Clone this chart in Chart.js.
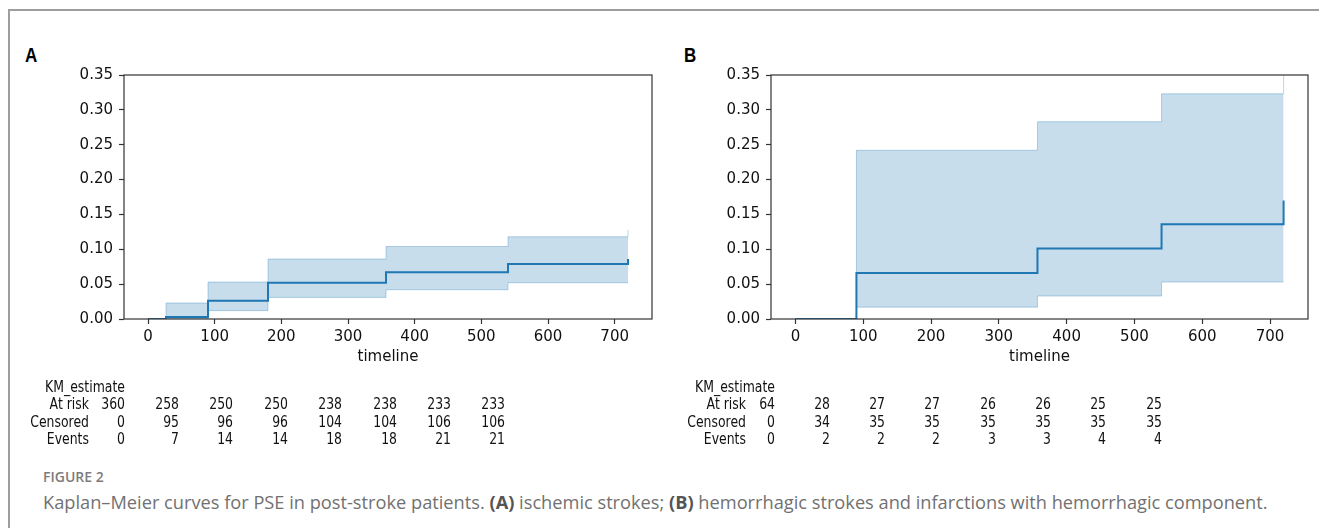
<!DOCTYPE html>
<html><head><meta charset="utf-8">
<script src="https://cdn.jsdelivr.net/npm/chart.js@4.4.1/dist/chart.umd.min.js"></script>
<style>
html,body{margin:0;padding:0;background:#fff;}
body{width:1319px;height:528px;overflow:hidden;position:relative;font-family:'DejaVu Sans',sans-serif;}
#frameTop{position:absolute;left:8px;top:9px;width:1311px;height:2px;background:#9d9d9d}
#frameLeft{position:absolute;left:8px;top:9px;width:2px;height:519px;background:#9d9d9d}
canvas{position:absolute}
.plabel{position:absolute;font:bold 20px 'Liberation Sans',sans-serif;transform:scaleX(0.85);transform-origin:left center;color:#000;line-height:20px}
.cell{position:absolute;width:200px;text-align:right;font-size:15px;line-height:18px;color:#111;white-space:nowrap;transform:scaleX(0.83);transform-origin:right center}
#figno{position:absolute;left:43px;top:467px;font:600 14px 'Open Sans',sans-serif;color:#7c7c7c;line-height:20px;white-space:nowrap}
#caption{position:absolute;left:43px;top:491px;font:400 16px 'Open Sans',sans-serif;color:#717171;line-height:22px;white-space:nowrap}
#caption b{color:#555;font-weight:700}
</style></head>
<body>
<div id="frameTop"></div><div id="frameLeft"></div>
<div class="plabel" style="left:25px;top:45px">A</div>
<div class="plabel" style="left:684px;top:45px">B</div>
<canvas id="cA" width="670" height="320" style="left:0;top:60px"></canvas>
<canvas id="cB" width="659" height="320" style="left:660px;top:60px"></canvas>
<div id="tables"></div>
<div id="figno">FIGURE 2</div>
<div id="caption">Kaplan–Meier curves for PSE in post-stroke patients. <b>(A)</b> ischemic strokes; <b>(B)</b> hemorrhagic strokes and infarctions with hemorrhagic component.</div>
<script>
// ---- data ----
const xTicks = [0, 100, 200, 300, 400, 500, 600, 700];
const yTicks = [0, 0.05, 0.10, 0.15, 0.20, 0.25, 0.30, 0.35];

// Panel A: ischemic strokes
const timesA = [0, 27, 90, 180, 357, 540, 720];
const kmA    = [0, 0.003, 0.026, 0.052, 0.067, 0.079, 0.086];
const upperA = [0, 0.023, 0.053, 0.086, 0.104, 0.118, 0.128];
const lowerA = [0, 0.0005, 0.012, 0.031, 0.042, 0.052, 0.052];

// Panel B: hemorrhagic strokes
const timesB = [0, 90, 357, 540, 720];
const kmB    = [0, 0.066, 0.101, 0.136, 0.170];
const upperB = [0, 0.242, 0.283, 0.323, 0.36];
const lowerB = [0, 0.017, 0.033, 0.053, 0.053];

// at-risk tables
const rowLabels = ['At risk', 'Censored', 'Events'];
const atRiskA   = [360, 258, 250, 250, 238, 238, 233, 233];
const censoredA = [0, 95, 96, 96, 104, 104, 106, 106];
const eventsA   = [0, 7, 14, 14, 18, 18, 21, 21];
const atRiskB   = [64, 28, 27, 27, 26, 26, 25, 25];
const censoredB = [0, 34, 35, 35, 35, 35, 35, 35];
const eventsB   = [0, 2, 2, 2, 3, 3, 4, 4];

// ---- charts ----
const BLUE = '#1f77b4';
const toPts = (xs, ys) => xs.map((x, i) => ({x: x, y: ys[i]}));

const framePlugin = {
  id: 'frame',
  afterDraw(chart) {
    const a = chart.chartArea, ctx = chart.ctx;
    ctx.save();
    ctx.strokeStyle = '#333';
    ctx.lineWidth = 1.2;
    ctx.strokeRect(a.left, a.top, a.right - a.left, a.bottom - a.top);
    ctx.restore();
  }
};

function makeChart(id, times, km, upper, lower, yWidth, padRight) {
  return new Chart(document.getElementById(id), {
    type: 'line',
    data: {
      datasets: [
        {data: toPts(times, km), borderColor: BLUE, borderWidth: 2, stepped: true, fill: false, pointRadius: 0, tension: 0},
        {data: toPts(times, upper), borderColor: 'rgba(31,119,180,0.30)', borderWidth: 1, stepped: true,
         backgroundColor: 'rgba(31,119,180,0.25)', fill: '+1', pointRadius: 0, tension: 0},
        {data: toPts(times, lower), borderColor: 'rgba(31,119,180,0.30)', borderWidth: 1, stepped: true, fill: false, pointRadius: 0, tension: 0}
      ]
    },
    options: {
      responsive: false, animation: false, events: [],
      layout: {padding: {top: 15, right: padRight, left: 0, bottom: 0}},
      plugins: {legend: {display: false}, tooltip: {enabled: false}},
      scales: {
        x: {
          type: 'linear', min: -36, max: 756,
          afterBuildTicks: s => { s.ticks = xTicks.map(v => ({value: v})); },
          afterFit: s => { s.height = 61; },
          grid: {display: true, drawOnChartArea: false, drawTicks: true, tickLength: 5, color: '#333', tickWidth: 1.2},
          border: {display: false},
          ticks: {padding: 4, color: '#111', font: {family: 'DejaVu Sans', size: 15}, maxRotation: 0, autoSkip: false,
                  callback: v => String(v)},
          title: {display: true, text: 'timeline', color: '#111', font: {family: 'DejaVu Sans', size: 15}, padding: {top: 0, bottom: 14}}
        },
        y: {
          type: 'linear', min: 0, max: 0.35,
          afterBuildTicks: s => { s.ticks = yTicks.map(v => ({value: v})); },
          afterFit: s => { s.width = yWidth; },
          grid: {display: true, drawOnChartArea: false, drawTicks: true, tickLength: 5, color: '#333', tickWidth: 1.2},
          border: {display: false},
          ticks: {padding: 6, color: '#111', font: {family: 'DejaVu Sans', size: 15}, autoSkip: false,
                  callback: v => Number(v).toFixed(2)}
        }
      }
    },
    plugins: [framePlugin]
  });
}

makeChart('cA', timesA, kmA, upperA, lowerA, 124, 18);
makeChart('cB', timesB, kmB, upperB, lowerB, 111, 11);

// ---- at-risk tables (HTML text) ----
const tables = document.getElementById('tables');
const rowY = [377.5, 395, 412.5, 430]; // tops of text rows
function addCell(text, rightX, top) {
  const d = document.createElement('div');
  d.className = 'cell';
  d.textContent = text;
  d.style.left = (rightX - 200) + 'px';
  d.style.top = top + 'px';
  tables.appendChild(d);
}
function buildTable(labelRight, firstCol, step, rows) {
  addCell('KM_estimate', firstCol, rowY[0]);
  rows.forEach((vals, r) => {
    addCell(rowLabels[r], labelRight, rowY[r + 1]);
    vals.forEach((v, i) => addCell(String(v), firstCol + i * step, rowY[r + 1]));
  });
}
buildTable(89, 124.5, 54.4, [atRiskA, censoredA, eventsA]);
buildTable(746, 774.5, 55.3, [atRiskB, censoredB, eventsB]);

// fit caption to its measured width in the reference
const cap = document.getElementById('caption');
const w = cap.getBoundingClientRect().width;
cap.style.fontSize = (16 * 1225 / w).toFixed(2) + 'px';
</script>
</body></html>
